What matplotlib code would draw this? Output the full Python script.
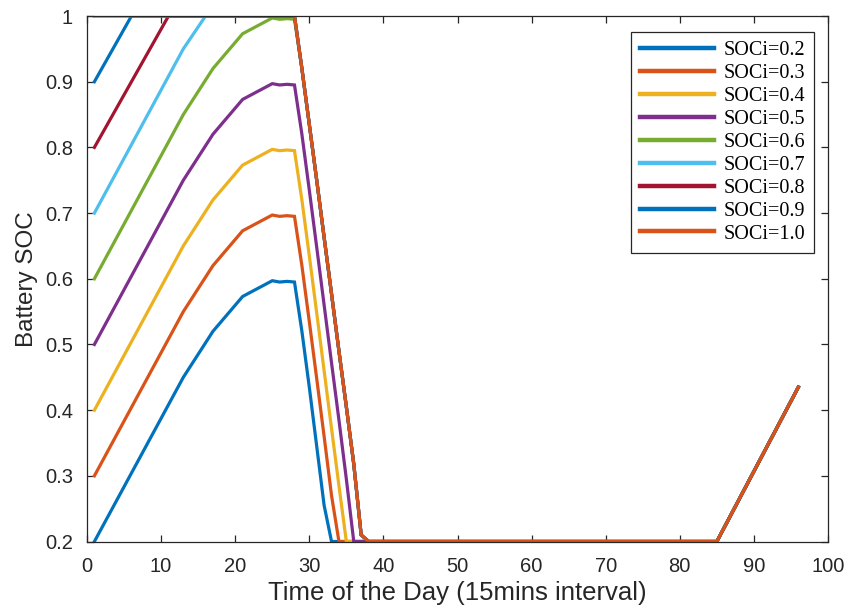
import matplotlib
matplotlib.use('Agg')
import matplotlib.pyplot as plt

# Legendas e cores (padrao MATLAB)
rotulos = ['SOCi=0.2', 'SOCi=0.3', 'SOCi=0.4', 'SOCi=0.5', 'SOCi=0.6',
           'SOCi=0.7', 'SOCi=0.8', 'SOCi=0.9', 'SOCi=1.0']
cores = ['#0072BD', '#D95319', '#EDB120', '#7E2F8E', '#77AC30',
         '#4DBEEE', '#A2142F', '#0072BD', '#D95319']

# Vertices (tempo, SOC)
t_02 = [1, 13, 17, 21, 25, 26, 27, 28, 29, 30, 31, 32, 33, 85, 96]
soc_02 = [0.2, 0.45, 0.52, 0.573, 0.597, 0.595, 0.596, 0.595,
          0.52, 0.435, 0.345, 0.255, 0.2, 0.2, 0.435]

t_03 = [1, 13, 17, 21, 25, 26, 27, 28, 29, 30, 31, 32, 33, 34, 85, 96]
soc_03 = [0.3, 0.55, 0.62, 0.673, 0.697, 0.695, 0.696, 0.695,
          0.62, 0.535, 0.448, 0.36, 0.27, 0.2, 0.2, 0.435]

t_04 = [1, 13, 17, 21, 25, 26, 27, 28, 29, 30, 31, 32, 33, 34, 35, 85, 96]
soc_04 = [0.4, 0.65, 0.72, 0.773, 0.797, 0.795, 0.796, 0.795,
          0.72, 0.635, 0.548, 0.46, 0.372, 0.285, 0.2, 0.2, 0.435]

t_05 = [1, 13, 17, 21, 25, 26, 27, 28, 29, 30, 31, 32, 33, 34, 35, 36, 85, 96]
soc_05 = [0.5, 0.75, 0.82, 0.873, 0.897, 0.895, 0.896, 0.895,
          0.82, 0.735, 0.648, 0.56, 0.472, 0.385, 0.295, 0.2, 0.2, 0.435]

t_06 = [1, 13, 17, 21, 25, 26, 27, 28, 29, 30, 31, 32, 33, 34, 35, 36, 37, 38, 85, 96]
soc_06 = [0.6, 0.85, 0.92, 0.973, 0.997, 0.995, 0.996, 0.995,
          0.92, 0.835, 0.75, 0.663, 0.577, 0.49, 0.405, 0.318, 0.21, 0.2, 0.2, 0.435]

t_07 = [1, 13, 16, 28, 29, 30, 31, 32, 33, 34, 35, 36, 37, 38, 85, 96]
soc_07 = [0.7, 0.95, 1.0, 1.0, 0.92, 0.835, 0.75, 0.663, 0.577,
          0.49, 0.405, 0.318, 0.21, 0.2, 0.2, 0.435]

t_08 = [1, 11, 28, 29, 30, 31, 32, 33, 34, 35, 36, 37, 38, 85, 96]
soc_08 = [0.8, 1.0, 1.0, 0.92, 0.835, 0.75, 0.663, 0.577,
          0.49, 0.405, 0.318, 0.21, 0.2, 0.2, 0.435]

t_09 = [1, 6, 28, 29, 30, 31, 32, 33, 34, 35, 36, 37, 38, 85, 96]
soc_09 = [0.9, 1.0, 1.0, 0.92, 0.835, 0.75, 0.663, 0.577,
          0.49, 0.405, 0.318, 0.21, 0.2, 0.2, 0.435]

t_10 = [1, 28, 29, 30, 31, 32, 33, 34, 35, 36, 37, 38, 85, 96]
soc_10 = [1.0, 1.0, 0.92, 0.835, 0.75, 0.663, 0.577,
          0.49, 0.405, 0.318, 0.21, 0.2, 0.2, 0.435]

tempos = [t_02, t_03, t_04, t_05, t_06, t_07, t_08, t_09, t_10]
socs = [soc_02, soc_03, soc_04, soc_05, soc_06, soc_07, soc_08, soc_09, soc_10]

xticks = [0, 10, 20, 30, 40, 50, 60, 70, 80, 90, 100]
yticks = [0.2, 0.3, 0.4, 0.5, 0.6, 0.7, 0.8, 0.9, 1]
yticklabels = ['0.2', '0.3', '0.4', '0.5', '0.6', '0.7', '0.8', '0.9', '1']

plt.rcParams['font.family'] = ['Liberation Sans', 'DejaVu Sans']

fig = plt.figure(figsize=(8.5, 6.08), dpi=100)
ax = fig.add_axes([87/850, 1 - 541.5/608, (828 - 87)/850, (541.5 - 16)/608])

for t, s, cor, rot in zip(tempos, socs, cores, rotulos):
    ax.plot(t, s, color=cor, linewidth=2.3, label=rot, solid_joinstyle='miter')

ax.set_xlim(0, 100)
ax.set_ylim(0.2, 1)
ax.set_xticks(xticks)
ax.set_yticks(yticks)
ax.set_yticklabels(yticklabels)
ax.tick_params(direction='in', top=True, right=True, length=5, width=0.9,
               labelsize=14.5, colors='#262626')
ax.tick_params(axis='x', pad=11)
ax.tick_params(axis='y', pad=10)
for lado in ax.spines.values():
    lado.set_color('#262626')
    lado.set_linewidth(0.9)

ax.set_xlabel('Time of the Day (15mins interval)', fontsize=18.5, color='#262626', labelpad=3.5)
ax.set_ylabel('Battery SOC', fontsize=17.5, color='#262626', labelpad=5)

leg = ax.legend(loc='upper right', bbox_to_anchor=(814/850, 1 - 32/608),
                bbox_transform=fig.transFigure, borderaxespad=0,
                prop={'family': 'Liberation Serif', 'size': 14.5},
                handlelength=3.7, labelspacing=0.19, handletextpad=0.45,
                borderpad=0.45, fancybox=False, framealpha=1, edgecolor='#262626')
leg.get_frame().set_linewidth(0.9)
for linha in leg.get_lines():
    linha.set_linewidth(3.2)

fig.savefig('out.png', dpi=100)
